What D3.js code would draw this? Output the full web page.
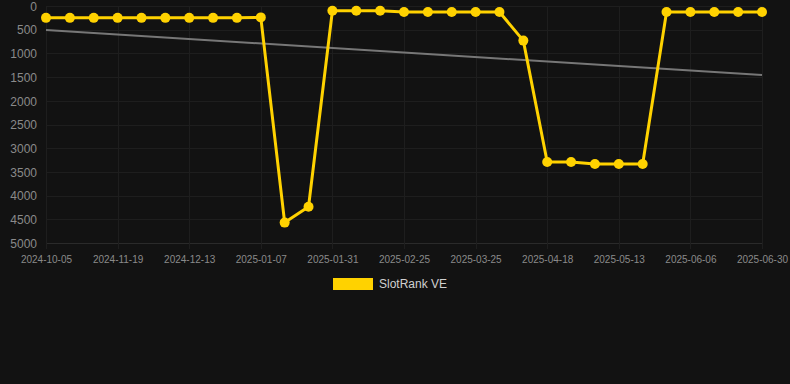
<!DOCTYPE html>
<html><head><meta charset="utf-8">
<script src="https://cdn.jsdelivr.net/npm/d3@7"></script>
<style>
html,body{margin:0;padding:0;background:#121212;}
svg{display:block;}
</style></head>
<body><svg id="c" width="790" height="384"></svg>
<script>
// Category labels (only every third one is shown on the axis)
const dates = [
"2024-10-05","2024-10-20","2024-11-04","2024-11-19","2024-11-27","2024-12-05",
"2024-12-13","2024-12-21","2024-12-29","2025-01-07","2025-01-15","2025-01-23",
"2025-01-31","2025-02-08","2025-02-17","2025-02-25","2025-03-06","2025-03-16",
"2025-03-25","2025-04-02","2025-04-10","2025-04-18","2025-04-26","2025-05-05",
"2025-05-13","2025-05-21","2025-05-29","2025-06-06","2025-06-14","2025-06-22",
"2025-06-30"];
const rankVE = [
250,250,250,250,250,250,250,250,250,240,
4570,4235,100,100,100,127,127,127,127,127,
730,3290,3292,3333,3333,3333,127,127,127,127,127];
const trend = [506, 1456]; // trend line start / end values
const yTicks = [0,500,1000,1500,2000,2500,3000,3500,4000,4500,5000];
const seriesName = "SlotRank VE";

(function () {
const svg = d3.select("#c");
const mLeft = 46, mRight = 762, mTop = 6, mBottom = 243;
const x = d3.scalePoint().domain(dates).range([mLeft, mRight]);
const y = d3.scaleLinear().domain([0, 5000]).range([mTop, mBottom]);
const font = "Liberation Sans, Arial, Helvetica, sans-serif";

// horizontal grid
svg.append("g").selectAll("line").data(yTicks).join("line")
  .attr("x1", mLeft).attr("x2", mRight)
  .attr("y1", d => Math.round(y(d)) + 0.5).attr("y2", d => Math.round(y(d)) + 0.5)
  .attr("stroke", d => d === 5000 ? "#2a2a2a" : "#1e1e1e").attr("stroke-width", 1);

const shown = dates.filter((d, i) => i % 3 === 0);
// vertical grid
svg.append("g").selectAll("line").data(shown).join("line")
  .attr("x1", d => Math.round(x(d)) + 0.5).attr("x2", d => Math.round(x(d)) + 0.5)
  .attr("y1", mTop).attr("y2", mBottom + 6)
  .attr("stroke", "#1e1e1e").attr("stroke-width", 1);

// y axis
const yAxis = d3.axisLeft(y).tickValues(yTicks).tickFormat(d3.format("d"))
  .tickSize(0).tickPadding(0);
const gy = svg.append("g").attr("transform", `translate(37,0)`).call(yAxis);
gy.select(".domain").remove();
gy.selectAll("text").attr("fill", "#8a8a8a").attr("font-size", 12)
  .attr("font-family", font).attr("dy", "0.35em");

// x axis
const xAxis = d3.axisBottom(x).tickValues(shown).tickSize(0).tickPadding(0);
const gx = svg.append("g").attr("transform", `translate(0,${mBottom + 16})`).call(xAxis);
gx.select(".domain").remove();
gx.selectAll("text").attr("fill", "#8a8a8a").attr("font-size", 10)
  .attr("font-family", font).attr("dy", "0.35em");

// trend line
svg.append("line")
  .attr("x1", x(dates[0])).attr("x2", x(dates[dates.length - 1]))
  .attr("y1", y(trend[0])).attr("y2", y(trend[1]))
  .attr("stroke", "#777").attr("stroke-width", 2);

// series line
const data = dates.map((d, i) => ({d, v: rankVE[i]}));
svg.append("path").datum(data)
  .attr("fill", "none").attr("stroke", "#FFD200").attr("stroke-width", 3)
  .attr("stroke-linejoin", "round")
  .attr("d", d3.line().x(p => x(p.d)).y(p => y(p.v)));
svg.append("g").selectAll("circle").data(data).join("circle")
  .attr("cx", p => x(p.d)).attr("cy", p => y(p.v)).attr("r", 5)
  .attr("fill", "#FFD200");

// legend
const lg = svg.append("g");
lg.append("rect").attr("x", 333).attr("y", 278).attr("width", 40).attr("height", 12)
  .attr("fill", "#FFD200");
lg.append("text").attr("x", 379).attr("y", 284).attr("dy", "0.35em")
  .attr("fill", "#d0d0d0").attr("font-size", 12).attr("font-family", font)
  .text(seriesName);
})();
</script></body></html>
